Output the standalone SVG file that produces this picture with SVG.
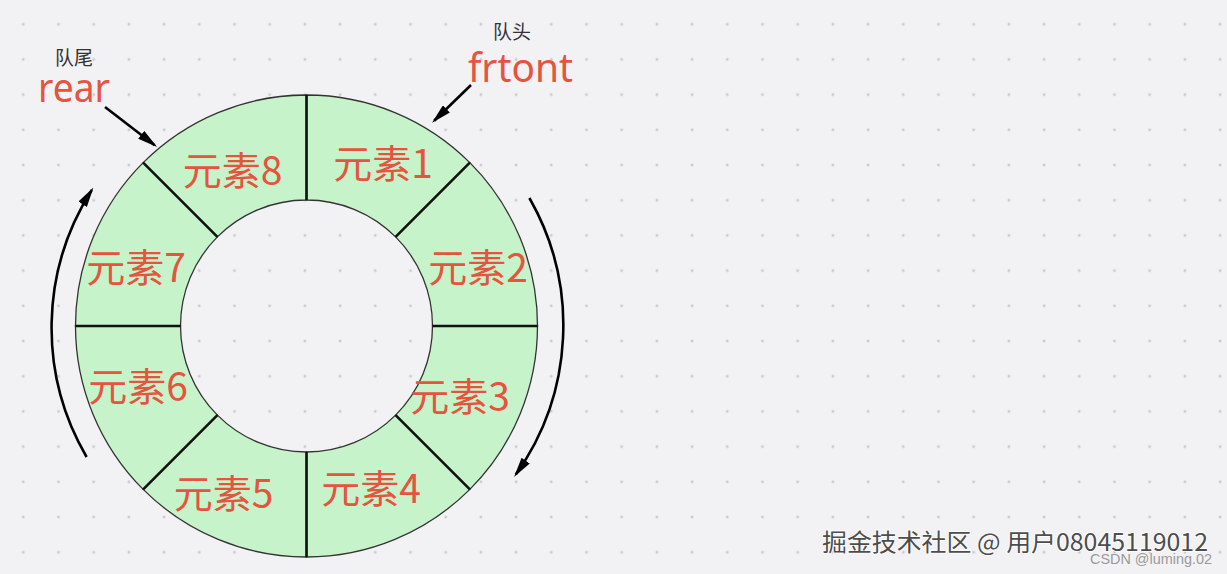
<svg xmlns="http://www.w3.org/2000/svg" width="1227" height="574" viewBox="0 0 1227 574">
<style>
.seg{fill:#c6f3c9;stroke:#333;stroke-width:1.3}
.lbl{font-family:"Noto Sans CJK SC","Noto Sans",sans-serif;font-size:39px;fill:#e4543f;text-anchor:middle}
.small{font-family:"Noto Sans CJK SC",sans-serif;font-size:19px;fill:#333;text-anchor:middle}
.big{font-family:"Noto Sans","Liberation Sans",sans-serif;font-size:40px;fill:#e4543f}
.div{stroke:#111;stroke-width:2.6}
.arr{fill:none;stroke:#000;stroke-width:2.6;marker-end:url(#ah)}
</style>
<defs>
<pattern id="dots" x="5.7" y="6.7" width="35.2" height="35.2" patternUnits="userSpaceOnUse">
<circle cx="17.6" cy="17.6" r="1.4" fill="#c9c9d0"/>
</pattern>
<marker id="ah" viewBox="0 0 20 10" refX="17" refY="5" markerWidth="20" markerHeight="10" markerUnits="userSpaceOnUse" orient="auto">
<path d="M0,0 L20,5 L0,10 z" fill="#000"/>
</marker>
</defs>
<rect width="1227" height="574" fill="#f2f2f5"/>
<rect width="1227" height="574" fill="url(#dots)"/>

<g id="seg1"><path class="seg" d="M306.5,95 A231,231 0 0 1 469.84,162.66 L395.6,236.9 A126,126 0 0 0 306.5,200 Z"/><text class="lbl" x="383" y="178">元素1</text></g>
<g id="seg2"><path class="seg" d="M469.84,162.66 A231,231 0 0 1 537.5,326 L432.5,326 A126,126 0 0 0 395.6,236.9 Z"/><text class="lbl" x="478" y="282">元素2</text></g>
<g id="seg3"><path class="seg" d="M537.5,326 A231,231 0 0 1 469.84,489.34 L395.6,415.1 A126,126 0 0 0 432.5,326 Z"/><text class="lbl" x="460" y="411">元素3</text></g>
<g id="seg4"><path class="seg" d="M469.84,489.34 A231,231 0 0 1 306.5,557 L306.5,452 A126,126 0 0 0 395.6,415.1 Z"/><text class="lbl" x="371" y="503">元素4</text></g>
<g id="seg5"><path class="seg" d="M306.5,557 A231,231 0 0 1 143.16,489.34 L217.4,415.1 A126,126 0 0 0 306.5,452 Z"/><text class="lbl" x="223.5" y="508">元素5</text></g>
<g id="seg6"><path class="seg" d="M143.16,489.34 A231,231 0 0 1 75.5,326 L180.5,326 A126,126 0 0 0 217.4,415.1 Z"/><text class="lbl" x="138" y="401">元素6</text></g>
<g id="seg7"><path class="seg" d="M75.5,326 A231,231 0 0 1 143.16,162.66 L217.4,236.9 A126,126 0 0 0 180.5,326 Z"/><text class="lbl" x="136" y="282">元素7</text></g>
<g id="seg8"><path class="seg" d="M143.16,162.66 A231,231 0 0 1 306.5,95 L306.5,200 A126,126 0 0 0 217.4,236.9 Z"/><text class="lbl" x="232.5" y="185">元素8</text></g>

<g id="dividers">
<line class="div" x1="306.5" y1="95" x2="306.5" y2="200"/>
<line class="div" x1="469.84" y1="162.66" x2="395.6" y2="236.9"/>
<line class="div" x1="537.5" y1="326" x2="432.5" y2="326"/>
<line class="div" x1="469.84" y1="489.34" x2="395.6" y2="415.1"/>
<line class="div" x1="306.5" y1="557" x2="306.5" y2="452"/>
<line class="div" x1="143.16" y1="489.34" x2="217.4" y2="415.1"/>
<line class="div" x1="75.5" y1="326" x2="180.5" y2="326"/>
<line class="div" x1="143.16" y1="162.66" x2="217.4" y2="236.9"/>
</g>

<g id="rear-label">
<text class="small" x="74" y="65">队尾</text>
<text class="big" x="38" y="102" textLength="72" lengthAdjust="spacingAndGlyphs">rear</text>
</g>
<g id="front-label">
<text class="small" x="512" y="39">队头</text>
<text class="big" x="468" y="82" textLength="105" lengthAdjust="spacingAndGlyphs">frtont</text>
</g>

<g id="connectors">
<path class="arr" d="M105,107 L154.7,145.2"/>
<path class="arr" d="M471,85 L434.2,120.7"/>
<path class="arr" d="M86.6,457 A256,256 0 0 1 91.8,190"/>
<path class="arr" d="M529.4,198 A257,257 0 0 1 515.8,474.5"/>
</g>

<g id="watermark">
<text x="822" y="551" font-family="Noto Sans CJK SC,sans-serif" font-size="24" fill="#4d4d4d" stroke="#ffffff" stroke-width="1.5" paint-order="stroke" textLength="386" lengthAdjust="spacingAndGlyphs">掘金技术社区 @ 用户08045119012</text>
<text x="1090" y="564" font-family="Liberation Sans,sans-serif" font-size="15" fill="#9a9a9a" textLength="122" lengthAdjust="spacingAndGlyphs">CSDN @luming.02</text>
</g>
</svg>
